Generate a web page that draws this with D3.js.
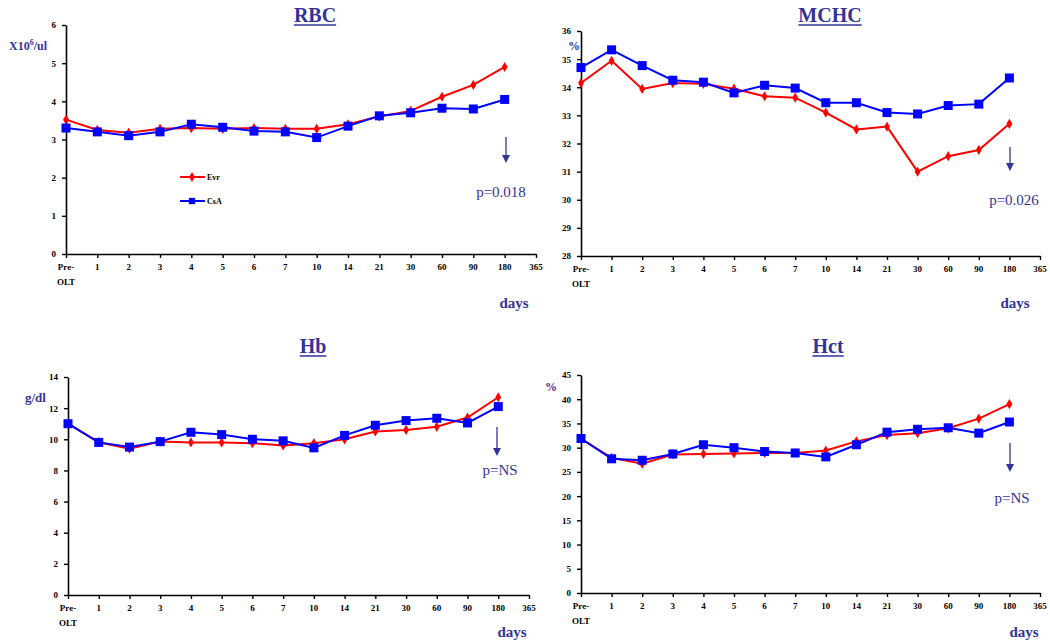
<!DOCTYPE html>
<html>
<head>
<meta charset="utf-8">
<script src="https://cdn.jsdelivr.net/npm/d3@7"></script>
<style>
  body { margin: 0; background: #fff; }
  svg { font-family: "Liberation Serif", "Times New Roman", serif; }
</style>
</head>
<body>
<div id="chart"></div>
<script>
// categorias del eje x (dias post trasplante)
var dias = ["Pre-OLT", "1", "2", "3", "4", "5", "6", "7", "10", "14", "21", "30", "60", "90", "180", "365"];

// RBC (X10^6/ul)
var rbcEvr = [3.52, 3.25, 3.18, 3.28, 3.30, 3.28, 3.30, 3.28, 3.28, 3.40, 3.60, 3.75, 4.12, 4.43, 4.90];
var rbcCsa = [3.30, 3.20, 3.10, 3.20, 3.40, 3.32, 3.22, 3.20, 3.05, 3.35, 3.62, 3.70, 3.82, 3.80, 4.05];
var rbcTicks = [0, 1, 2, 3, 4, 5, 6];

// MCHC (%)
var mchcEvr = [34.15, 34.94, 33.94, 34.15, 34.12, 33.95, 33.68, 33.63, 33.10, 32.50, 32.60, 31.00, 31.55, 31.77, 32.70];
var mchcCsa = [34.70, 35.33, 34.77, 34.25, 34.18, 33.80, 34.07, 33.97, 33.45, 33.45, 33.10, 33.05, 33.35, 33.40, 34.33];
var mchcTicks = [28, 29, 30, 31, 32, 33, 34, 35, 36];

// Hb (g/dl)
var hbEvr = [11.0, 9.8, 9.4, 9.85, 9.8, 9.8, 9.75, 9.6, 9.75, 10.0, 10.5, 10.6, 10.8, 11.4, 12.7];
var hbCsa = [11.0, 9.8, 9.5, 9.85, 10.45, 10.3, 10.0, 9.9, 9.45, 10.25, 10.9, 11.2, 11.35, 11.05, 12.1];
var hbTicks = [0, 2, 4, 6, 8, 10, 12, 14];

// Hct (%)
var hctEvr = [31.8, 27.9, 26.7, 28.6, 28.7, 28.8, 28.9, 28.9, 29.4, 31.3, 32.6, 33.0, 34.0, 36.0, 39.0];
var hctCsa = [31.9, 27.7, 27.4, 28.7, 30.6, 30.0, 29.2, 28.9, 28.1, 30.6, 33.2, 33.8, 34.1, 33.0, 35.3];
var hctTicks = [0, 5, 10, 15, 20, 25, 30, 35, 40, 45];

var azul = "#333399";

var svg = d3.select("#chart").append("svg")
  .attr("width", 1050)
  .attr("height", 640);

function graficarPanel(p) {
  var x = d3.scalePoint().domain(dias).range([p.x0, p.x1]).padding(0);
  var y = d3.scaleLinear().domain([p.ticks[0], p.ticks[p.ticks.length - 1]]).range([p.y0, p.y1]);

  var g = svg.append("g");

  // eje y
  var ejeY = g.append("g")
    .attr("transform", "translate(" + p.x0 + ",0)")
    .call(d3.axisLeft(y).tickValues(p.ticks).tickFormat(d3.format("d"))
      .tickSize(4).tickSizeOuter(0).tickPadding(6));
  // eje x
  var ejeX = g.append("g")
    .attr("transform", "translate(0," + p.y0 + ")")
    .call(d3.axisBottom(x).tickSize(4).tickSizeOuter(0).tickFormat(""));

  [ejeY, ejeX].forEach(function(e) {
    e.select(".domain").attr("stroke", "#000").attr("stroke-width", 1.6);
    e.selectAll(".tick line").attr("stroke", "#000").attr("stroke-width", 1.4);
  });
  ejeY.selectAll(".tick text")
    .attr("font-family", "Liberation Serif")
    .attr("font-weight", "bold")
    .attr("font-size", 9)
    .attr("fill", "#000");

  // etiquetas del eje x (Pre- / OLT en dos lineas)
  g.selectAll(".xlab")
    .data(dias)
    .enter()
    .append("text")
    .attr("class", "xlab")
    .attr("x", function(d) { return x(d); })
    .attr("y", p.y0 + 16)
    .attr("text-anchor", "middle")
    .attr("font-weight", "bold")
    .attr("font-size", 9)
    .each(function(d) {
      var t = d3.select(this);
      if (d === "Pre-OLT") {
        t.append("tspan").attr("x", x(d)).text("Pre-");
        t.append("tspan").attr("x", x(d)).attr("dy", 15).text("OLT");
      } else {
        t.text(d);
      }
    });

  // lineas y marcadores
  var linea = d3.line()
    .x(function(d, i) { return x(dias[i]); })
    .y(function(d) { return y(d); });

  g.append("path").datum(p.evr)
    .attr("d", linea).attr("fill", "none")
    .attr("stroke", "#ff0000").attr("stroke-width", 2);
  g.selectAll(".rombo").data(p.evr).enter().append("path")
    .attr("class", "rombo")
    .attr("d", d3.symbol().type(d3.symbolDiamond).size(30))
    .attr("transform", function(d, i) { return "translate(" + x(dias[i]) + "," + y(d) + ")"; })
    .attr("fill", "#ff0000");

  g.append("path").datum(p.csa)
    .attr("d", linea).attr("fill", "none")
    .attr("stroke", "#0000ff").attr("stroke-width", 2);
  g.selectAll(".cuadro").data(p.csa).enter().append("rect")
    .attr("class", "cuadro")
    .attr("x", function(d, i) { return x(dias[i]) - 4.5; })
    .attr("y", function(d) { return y(d) - 4.5; })
    .attr("width", 9).attr("height", 9)
    .attr("fill", "#0000ff");

  // titulo subrayado
  var tit = g.append("text")
    .attr("x", p.tx).attr("y", p.ty)
    .attr("text-anchor", "middle")
    .attr("font-weight", "bold")
    .attr("font-size", 20)
    .attr("fill", azul)
    .text(p.titulo);
  var bb = tit.node().getBBox();
  g.append("line")
    .attr("x1", bb.x).attr("x2", bb.x + bb.width)
    .attr("y1", p.ty + 3).attr("y2", p.ty + 3)
    .attr("stroke", azul).attr("stroke-width", 1.5);

  // unidades
  var u = g.append("text")
    .attr("x", p.ux).attr("y", p.uy)
    .attr("font-weight", "bold")
    .attr("font-size", p.unidadSize)
    .attr("fill", azul);
  if (p.unidad === "X10^6/ul") {
    u.append("tspan").text("X10");
    u.append("tspan").attr("dy", -5).attr("font-size", 8).text("6");
    u.append("tspan").attr("dy", 5).text("/ul");
  } else {
    u.text(p.unidad);
  }

  // "days"
  g.append("text")
    .attr("x", p.dx).attr("y", p.dy)
    .attr("text-anchor", "middle")
    .attr("font-weight", "bold")
    .attr("font-size", 15)
    .attr("fill", azul)
    .text("days");

  // flecha y valor p
  g.append("line")
    .attr("x1", p.ax).attr("x2", p.ax)
    .attr("y1", p.ay0).attr("y2", p.ay1 - 6)
    .attr("stroke", azul).attr("stroke-width", 1.3);
  g.append("path")
    .attr("d", "M" + (p.ax - 4) + "," + (p.ay1 - 8) + "L" + (p.ax + 4) + "," + (p.ay1 - 8) + "L" + p.ax + "," + p.ay1 + "Z")
    .attr("fill", azul);
  g.append("text")
    .attr("x", p.px).attr("y", p.py)
    .attr("text-anchor", "middle")
    .attr("font-size", 15)
    .attr("fill", azul)
    .text(p.pval);

  return g;
}

var rbc = graficarPanel({
  titulo: "RBC", evr: rbcEvr, csa: rbcCsa, ticks: rbcTicks,
  x0: 66, x1: 536, y0: 254, y1: 25,
  tx: 315, ty: 22, unidad: "X10^6/ul", ux: 9, uy: 50, unidadSize: 12,
  dx: 514, dy: 308, ax: 506, ay0: 137, ay1: 163, px: 501, py: 197, pval: "p=0.018"
});

graficarPanel({
  titulo: "MCHC", evr: mchcEvr, csa: mchcCsa, ticks: mchcTicks,
  x0: 581, x1: 1040, y0: 256, y1: 31,
  tx: 830, ty: 22, unidad: "%", ux: 568, uy: 50, unidadSize: 12,
  dx: 1015, dy: 308, ax: 1010, ay0: 147, ay1: 171, px: 1014, py: 205, pval: "p=0.026"
});

graficarPanel({
  titulo: "Hb", evr: hbEvr, csa: hbCsa, ticks: hbTicks,
  x0: 68, x1: 529, y0: 595, y1: 377,
  tx: 313, ty: 353, unidad: "g/dl", ux: 25, uy: 402, unidadSize: 13,
  dx: 512, dy: 637, ax: 497, ay0: 427, ay1: 456, px: 500, py: 475, pval: "p=NS"
});

graficarPanel({
  titulo: "Hct", evr: hctEvr, csa: hctCsa, ticks: hctTicks,
  x0: 581, x1: 1040, y0: 593, y1: 375,
  tx: 828, ty: 353, unidad: "%", ux: 545, uy: 391, unidadSize: 12,
  dx: 1024, dy: 637, ax: 1010, ay0: 443, ay1: 472, px: 1012, py: 503, pval: "p=NS"
});

// leyenda (solo en RBC)
var leyenda = [
  { nombre: "Evr", color: "#ff0000", y: 177, tipo: "rombo" },
  { nombre: "CsA", color: "#0000ff", y: 201, tipo: "cuadro" }
];
var lg = rbc.selectAll(".leyenda").data(leyenda).enter().append("g").attr("class", "leyenda");
lg.append("line")
  .attr("x1", 180).attr("x2", 205)
  .attr("y1", function(d) { return d.y; }).attr("y2", function(d) { return d.y; })
  .attr("stroke", function(d) { return d.color; }).attr("stroke-width", 2);
lg.append("path")
  .attr("d", function(d) {
    return d.tipo === "rombo"
      ? d3.symbol().type(d3.symbolDiamond).size(30)()
      : d3.symbol().type(d3.symbolSquare).size(40)();
  })
  .attr("transform", function(d) { return "translate(192," + d.y + ")"; })
  .attr("fill", function(d) { return d.color; });
lg.append("text")
  .attr("x", 207).attr("y", function(d) { return d.y + 3; })
  .attr("font-weight", "bold").attr("font-size", 8)
  .text(function(d) { return d.nombre; });
</script>
</body>
</html>
